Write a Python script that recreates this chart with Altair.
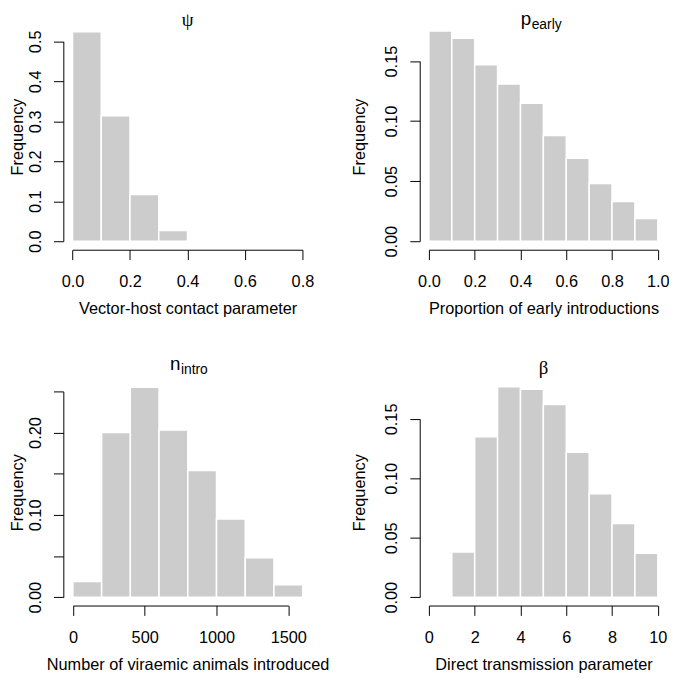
import altair as alt
import pandas as pd

# ---------------- data ----------------
psi_breaks = [0.0, 0.1, 0.2, 0.3, 0.4, 0.5, 0.6, 0.7, 0.8]
psi_freq = [0.524, 0.314, 0.117, 0.027, 0.003, 0.0, 0.0, 0.0]
psi_xticks = [0.0, 0.2, 0.4, 0.6, 0.8]
psi_yticks = [0.0, 0.1, 0.2, 0.3, 0.4, 0.5]
psi_ylabels = ["0.0", "0.1", "0.2", "0.3", "0.4", "0.5"]

pearly_breaks = [0.0, 0.1, 0.2, 0.3, 0.4, 0.5, 0.6, 0.7, 0.8, 0.9, 1.0]
pearly_freq = [0.175, 0.169, 0.147, 0.131, 0.115, 0.088, 0.069, 0.048, 0.033, 0.019]
pearly_xticks = [0.0, 0.2, 0.4, 0.6, 0.8, 1.0]
pearly_yticks = [0.0, 0.05, 0.10, 0.15]
pearly_ylabels = ["0.00", "0.05", "0.10", "0.15"]

nintro_breaks = [0, 200, 400, 600, 800, 1000, 1200, 1400, 1600]
nintro_freq = [0.019, 0.200, 0.255, 0.203, 0.154, 0.095, 0.048, 0.015]
nintro_xticks = [0, 500, 1000, 1500]
nintro_yticks = [0.0, 0.05, 0.10, 0.15, 0.20, 0.25]
nintro_ylabels = ["0.00", "0.10", "0.20"]

beta_breaks = [0, 1, 2, 3, 4, 5, 6, 7, 8, 9, 10]
beta_freq = [0.0, 0.038, 0.135, 0.177, 0.175, 0.162, 0.122, 0.087, 0.062, 0.037]
beta_xticks = [0, 2, 4, 6, 8, 10]
beta_yticks = [0.0, 0.05, 0.10, 0.15]
beta_ylabels = ["0.00", "0.05", "0.10", "0.15"]

titles_main = ["ψ", "p", "n", "β"]
titles_sub = ["", "early", "intro", ""]
x_titles = [
    "Vector-host contact parameter",
    "Proportion of early introductions",
    "Number of viraemic animals introduced",
    "Direct transmission parameter",
]
y_title = "Frequency"
x_formats = [".1f", ".1f", "d", "d"]
y_formats = [".1f", ".2f", ".2f", ".2f"]

# ---------------- layout (pixels inside the svg) ----------------
W, H = 669, 670
FONT = "Liberation Sans"
SERIF = "Liberation Serif"
FS = 16.5

layout = [
    dict(xr=[65.3, 298.0], yr=[232.0, 29.7], ax=56.0, ay=240.6, cx=181.75, ytx=-41.0),
    dict(xr=[426.0, 657.7], yr=[232.0, 49.7], ax=416.7, ay=240.6, cx=542.0, ytx=-56.0),
    dict(xr=[65.7, 283.7], yr=[592.3, 384.0], ax=56.0, ay=600.7, cx=181.75, ytx=-41.0),
    dict(xr=[426.0, 657.7], yr=[592.3, 411.8], ax=416.7, ay=600.7, cx=542.0, ytx=-56.0),
]
title_pos = [
    dict(base=14.0, sub_base=0, split=0),
    dict(base=13.0, sub_base=17.5, split=529.5),
    dict(base=362.0, sub_base=366.5, split=174.5),
    dict(base=366.0, sub_base=0, split=0),
]
row_centres = [126.0, 126.0, 486.0, 486.0]

panels = [
    (psi_breaks, psi_freq, psi_xticks, psi_yticks, psi_ylabels),
    (pearly_breaks, pearly_freq, pearly_xticks, pearly_yticks, pearly_ylabels),
    (nintro_breaks, nintro_freq, nintro_xticks, nintro_yticks, nintro_ylabels),
    (beta_breaks, beta_freq, beta_xticks, beta_yticks, beta_ylabels),
]


def label_expr(fmt, allowed=None):
    f = f"format(datum.value, '{fmt}')"
    if allowed is None:
        return f
    cond = " || ".join(f"{f} == '{a}'" for a in allowed)
    return f"({cond}) ? {f} : ''"


layers = []
for i, (breaks, freq, xt, yt, ylabs) in enumerate(panels):
    L = layout[i]
    df = pd.DataFrame({"lo": breaks[:-1], "hi": breaks[1:], "f": freq, "z": [0.0] * len(freq)})
    xaxis = alt.Axis(
        orient="bottom", offset=L["ay"] - H, values=xt,
        labelExpr=label_expr(x_formats[i]),
        labelAngle=0, labelAlign="center", labelBaseline="alphabetic", labelPadding=27.3,
        title=x_titles[i], titleX=L["cx"], titleY=64.6,
        titleAlign="center", titleBaseline="alphabetic", titleAngle=0,
    )
    yaxis = alt.Axis(
        orient="left", offset=-L["ax"], values=yt,
        labelExpr=label_expr(y_formats[i], ylabs),
        labelAngle=270, labelAlign="center", labelBaseline="alphabetic", labelPadding=13,
        title=y_title, titleX=L["ytx"], titleY=row_centres[i],
        titleAlign="center", titleBaseline="alphabetic", titleAngle=270,
    )
    bars = alt.Chart(df).mark_rect(fill="#cccccc", stroke="white", strokeWidth=1.5).encode(
        x=alt.X("lo:Q", scale=alt.Scale(domain=[xt[0], xt[-1]], range=L["xr"], nice=False, zero=False), axis=xaxis),
        x2="hi:Q",
        y=alt.Y("f:Q", scale=alt.Scale(domain=[yt[0], yt[-1]], range=L["yr"], nice=False, zero=False), axis=yaxis),
        y2="z:Q",
    )
    layers.append(bars)

    T = title_pos[i]
    if titles_sub[i] == "":
        t = alt.Chart(alt.Data(values=[{"t": titles_main[i]}])).mark_text(
            font=SERIF, fontSize=19, align="center", baseline="alphabetic", color="black"
        ).encode(text="t:N", x=alt.value(L["cx"]), y=alt.value(T["base"]))
        layers.append(t)
    else:
        t1 = alt.Chart(alt.Data(values=[{"t": titles_main[i]}])).mark_text(
            font=FONT, fontSize=19, align="right", baseline="alphabetic", color="black"
        ).encode(text="t:N", x=alt.value(T["split"]), y=alt.value(T["base"]))
        t2 = alt.Chart(alt.Data(values=[{"t": titles_sub[i]}])).mark_text(
            font=FONT, fontSize=14, align="left", baseline="alphabetic", color="black"
        ).encode(text="t:N", x=alt.value(T["split"] + 0.5), y=alt.value(T["sub_base"]))
        layers += [t1, t2]

chart = (
    alt.layer(*layers)
    .resolve_scale(x="independent", y="independent")
    .resolve_axis(x="independent", y="independent")
    .properties(width=W, height=H, autosize=alt.AutoSizeParams(type="none"), padding=0)
    .configure_view(stroke=None)
    .configure_axis(
        grid=False, domainColor="black", domainWidth=1, tickColor="black", tickWidth=1, tickSize=10,
        labelColor="black", titleColor="black", labelFont=FONT, titleFont=FONT,
        labelFontSize=FS, titleFontSize=FS, titleFontWeight="normal",
        labelFlush=False, labelOverlap=False,
    )
)

chart.save("out.html", embed_options={"renderer": "svg", "actions": False})
